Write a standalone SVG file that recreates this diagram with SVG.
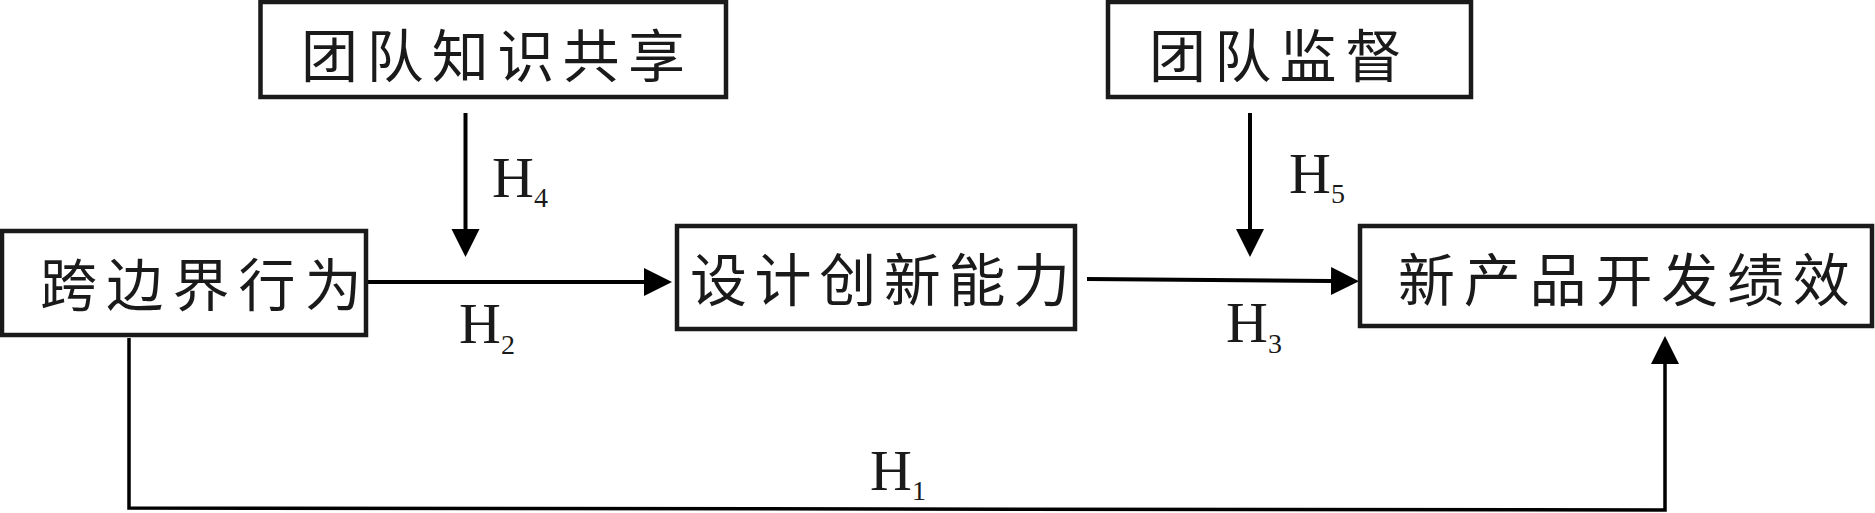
<svg xmlns="http://www.w3.org/2000/svg" width="1875" height="513" viewBox="0 0 1875 513">
  <style>
    .box { fill: #ffffff; stroke: #1a1a1a; stroke-width: 4.5; }
    .lbl { font-family: "Noto Sans CJK SC", "Noto Sans CJK JP", sans-serif; font-size: 57px; fill: #1a1a1a; }
    .h { font-family: "Liberation Serif", "Times New Roman", serif; font-size: 58px; fill: #1a1a1a; }
    .sub { font-size: 28px; }
    .conn { fill: none; stroke: #000000; stroke-width: 4; }
    .thin { stroke-width: 3.5; }
  </style>
  <defs>
    <marker id="arrow" markerUnits="userSpaceOnUse" markerWidth="30" markerHeight="30" viewBox="0 -15 30 30" refX="0" refY="0" orient="auto">
      <path d="M0,-14 L28,0 L0,14 Z" fill="#000000"/>
    </marker>
  </defs>
  <rect width="1875" height="513" fill="#ffffff"/>

  <g id="connectors">
    <line class="conn" x1="465.5" y1="113" x2="465.5" y2="229" marker-end="url(#arrow)"/>
    <line class="conn" x1="1250" y1="113" x2="1250" y2="229" marker-end="url(#arrow)"/>
    <line class="conn" x1="367" y1="282" x2="644" y2="282" marker-end="url(#arrow)"/>
    <line class="conn" x1="1087" y1="279" x2="1331" y2="281" marker-end="url(#arrow)"/>
    <polyline class="conn thin" points="129,338 129,508 1665,510 1665,364" marker-end="url(#arrow)"/>
    <text class="h" x="492" y="197">H<tspan class="sub" dy="10">4</tspan></text>
    <text class="h" x="459" y="343">H<tspan class="sub" dy="11">2</tspan></text>
    <text class="h" x="1289" y="193">H<tspan class="sub" dy="10">5</tspan></text>
    <text class="h" x="1226" y="342">H<tspan class="sub" dy="11">3</tspan></text>
    <text class="h" x="870" y="490">H<tspan class="sub" dy="10">1</tspan></text>
  </g>

  <g id="node-knowledge-sharing">
    <rect class="box" x="260.5" y="2" width="465.5" height="95"/>
    <text class="lbl" x="301" y="76.5" letter-spacing="8.4">团队知识共享</text>
  </g>
  <g id="node-team-supervision">
    <rect class="box" x="1108" y="2" width="363" height="95"/>
    <text class="lbl" x="1149" y="77" letter-spacing="8.3">团队监督</text>
  </g>
  <g id="node-boundary-spanning">
    <rect class="box" x="2" y="231" width="364" height="104"/>
    <text class="lbl" x="40" y="306" letter-spacing="9.2">跨边界行为</text>
  </g>
  <g id="node-design-innovation">
    <rect class="box" x="677" y="226" width="398" height="103"/>
    <text class="lbl" x="690" y="301" letter-spacing="7.6">设计创新能力</text>
  </g>
  <g id="node-npd-performance">
    <rect class="box" x="1360" y="226" width="512" height="100"/>
    <text class="lbl" x="1398" y="300.5" letter-spacing="8.8">新产品开发绩效</text>
  </g>
</svg>
